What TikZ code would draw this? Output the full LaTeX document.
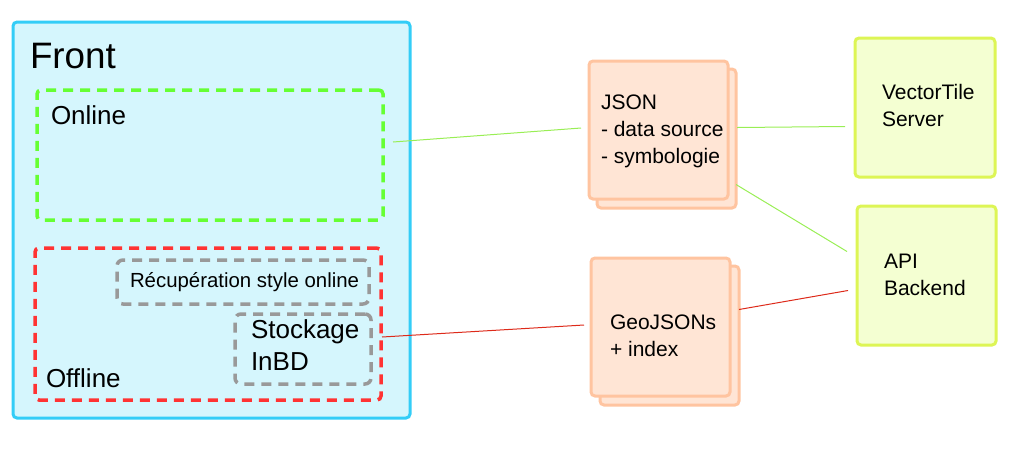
\documentclass[tikz,border=0pt]{standalone}
\usepackage{fontspec}
\setmainfont{Liberation Sans}
\usetikzlibrary{calc}
\definecolor{frontfill}{HTML}{D5F6FD}
\definecolor{frontdraw}{HTML}{33CDF7}
\definecolor{ongreen}{HTML}{66FF33}
\definecolor{offred}{HTML}{FF3333}
\definecolor{dashgray}{HTML}{999999}
\definecolor{docfill}{HTML}{FFE5D5}
\definecolor{docdraw}{HTML}{FFC4A0}
\definecolor{srvfill}{HTML}{F4FFD2}
\definecolor{srvdraw}{HTML}{DDF555}
\definecolor{lingreen}{HTML}{99EE55}
\definecolor{linred}{HTML}{DD2A1A}
\tikzset{
  box/.style={rectangle, anchor=north west, inner sep=0pt, outer sep=0pt, line width=3pt, rounded corners=4pt},
  frontbox/.style={box, draw=frontdraw, fill=frontfill},
  onbox/.style={box, draw=ongreen, line width=3.5pt, dash pattern=on 10pt off 7pt},
  offbox/.style={box, draw=offred, line width=3.5pt, dash pattern=on 10pt off 7pt},
  graybox/.style={box, draw=dashgray, line width=3.5pt, dash pattern=on 10pt off 7pt, rounded corners=6pt},
  docbox/.style={box, draw=docdraw, fill=docfill},
  srvbox/.style={box, draw=srvdraw, fill=srvfill},
  lbl/.style={anchor=base west, inner sep=0pt, outer sep=0pt, align=left},
  big/.style={font=\fontsize{36.8}{44}\selectfont},
  mid/.style={font=\fontsize{26}{32}\selectfont},
  small/.style={font=\fontsize{21}{26.6}\selectfont},
  tiny/.style={font=\fontsize{20.4}{24}\selectfont},
  gline/.style={draw=lingreen, line width=1pt},
  rline/.style={draw=linred, line width=1pt},
}
\begin{document}
\begin{tikzpicture}[x=1pt,y=-1pt]
\useasboundingbox (0,0) rectangle (1035,459);
% Front
\node[frontbox, minimum width=397pt, minimum height=396pt] (front) at (13,22) {};
\node[lbl, big] (fronttxt) at (30,68) {Front};
% Online
\node[onbox, minimum width=346pt, minimum height=130pt] (online) at (37,90) {};
\node[lbl, mid] (onlinetxt) at (51,124) {Online};
% Offline
\node[offbox, minimum width=346pt, minimum height=152pt] (offline) at (35,248) {};
\node[lbl, mid] (offlinetxt) at (46,387) {Offline};
% Recuperation
\node[graybox, minimum width=252pt, minimum height=44pt] (recup) at (117,260) {};
\node[lbl, tiny] (recuptxt) at (130,287) {Récupération style online};
% Stockage
\node[graybox, minimum width=136pt, minimum height=70pt] (stock) at (235,314) {};
\node[lbl, mid] (stocktxt) at (251,370) {Stockage\\InBD};
% JSON doc
\node[docbox, minimum width=139pt, minimum height=139pt] (jsonback) at (597,69) {};
\node[docbox, minimum width=139pt, minimum height=138pt] (json) at (589,61) {};
\node[lbl, small, font=\fontsize{21}{27}\selectfont] (jsontxt) at (601,163) {JSON\\- data source\\- symbologie};
% GeoJSON doc
\node[docbox, minimum width=139pt, minimum height=139pt] (geoback) at (600,266) {};
\node[docbox, minimum width=139pt, minimum height=138pt] (geo) at (591,258) {};
\node[lbl, small] (geotxt) at (610,356) {GeoJSONs\\+ index};
% VectorTile server
\node[srvbox, minimum width=140pt, minimum height=139pt] (vts) at (855,38) {};
\node[lbl, small] (vtstxt) at (882,126) {VectorTile\\Server};
% API backend
\node[srvbox, minimum width=139pt, minimum height=139pt] (api) at (857,206) {};
\node[lbl, small] (apitxt) at (884,295) {API\\Backend};
% connectors
\draw[gline] ($(online.east)+(10,-13)$) -- ($(json.west)+(-8,-2)$);
\draw[gline] ($(jsonback.east)+(1,-11)$) -- ($(vts.west)+(-10,19)$);
\draw[gline] ($(jsonback.east)+(0,46)$) -- ($(api.west)+(-10,-24)$);
\draw[rline] ($(offline.east)+(1,13)$) -- ($(geo.west)+(-7,-2)$);
\draw[rline] ($(geoback.east)+(0,-26)$) -- ($(api.west)+(-9,15)$);
\end{tikzpicture}
\end{document}
